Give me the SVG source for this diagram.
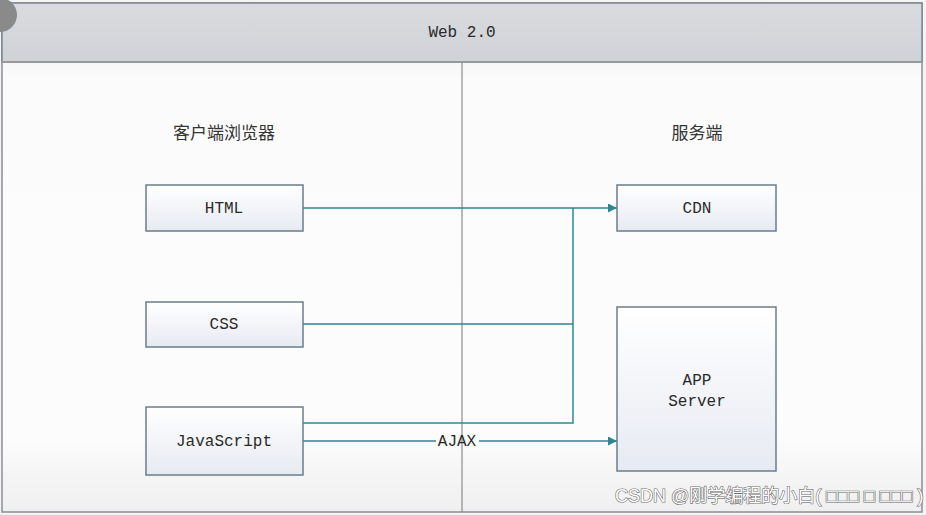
<svg xmlns="http://www.w3.org/2000/svg" width="926" height="515" viewBox="0 0 926 515">
<defs>
<linearGradient id="hdr" x1="0" y1="0" x2="0" y2="1"><stop offset="0" stop-color="#d9dbdf"/><stop offset="1" stop-color="#cfd2d6"/></linearGradient>
<linearGradient id="body" x1="0" y1="0" x2="0" y2="1"><stop offset="0" stop-color="#e9e9e9"/><stop offset="0.15" stop-color="#fbfbfb"/><stop offset="0.85" stop-color="#fcfcfc"/><stop offset="1" stop-color="#efefef"/></linearGradient>
<linearGradient id="box" x1="0" y1="0" x2="0" y2="1"><stop offset="0" stop-color="#ffffff"/><stop offset="1" stop-color="#e6eaf2"/></linearGradient>
<marker id="arr" viewBox="0 0 10 10" refX="10" refY="5" markerWidth="9" markerHeight="9" markerUnits="userSpaceOnUse" orient="auto"><path d="M0,0 L10,5 L0,10 z" fill="#2f8593"/></marker>
</defs>
<style>
.node rect{fill:url(#box);stroke:#6b7d8c;stroke-width:1.5}
.lbl{font-family:"Liberation Mono","DejaVu Sans Mono",monospace;font-size:16px;fill:#2a2a2a;text-anchor:middle}
.cjk{font-family:"Noto Sans CJK SC",sans-serif;font-size:17px;fill:#333;text-anchor:middle}
.con{stroke:#2f8593;stroke-width:1.5;fill:none}
</style>
<rect x="0" y="0" width="926" height="515" fill="#f4f4f4"/>
<rect x="2" y="3" width="920" height="509" fill="url(#body)" stroke="#8a8f95" stroke-width="1.5"/>
<rect x="2" y="3" width="920" height="59" fill="url(#hdr)" stroke="#7b8795" stroke-width="1.5"/>
<line x1="2" y1="62" x2="922" y2="62" stroke="#999" stroke-width="2"/>
<line x1="462" y1="62" x2="462" y2="512" stroke="#8c8c8c" stroke-width="1.2"/>
<circle cx="0" cy="15" r="17" fill="#8a8a8a"/>
<text class="lbl" x="462" y="37">Web 2.0</text>
<text class="cjk" x="224" y="139">客户端浏览器</text>
<text class="cjk" x="697" y="139">服务端</text>
<g id="connectors">
<line class="con" x1="303" y1="208" x2="617" y2="208" marker-end="url(#arr)"/>
<polyline class="con" points="303,324 573,324"/>
<polyline class="con" points="303,423 573,423 573,208"/>
<line class="con" x1="303" y1="441" x2="436" y2="441"/>
<line class="con" x1="479" y1="441" x2="617" y2="441" marker-end="url(#arr)"/>
<text class="lbl" x="457" y="446">AJAX</text>
</g>
<g id="html" class="node"><rect x="146" y="185" width="157" height="46"/><text class="lbl" x="224" y="213">HTML</text></g>
<g id="css" class="node"><rect x="146" y="302" width="157" height="45"/><text class="lbl" x="224" y="329">CSS</text></g>
<g id="javascript" class="node"><rect x="146" y="407" width="157" height="68"/><text class="lbl" x="224" y="446">JavaScript</text></g>
<g id="cdn" class="node"><rect x="617" y="185" width="159" height="46"/><text class="lbl" x="697" y="213">CDN</text></g>
<g id="appserver" class="node"><rect x="617" y="307" width="159" height="164"/><text class="lbl" x="697" y="385">APP</text><text class="lbl" x="697" y="406">Server</text></g>
<text x="615" y="502" font-family="Liberation Sans,Noto Sans CJK SC,sans-serif" font-size="18" fill="#ffffff" stroke="#6e6e6e" stroke-width="1.2" paint-order="stroke">CSDN @刚学编程的小白( □□□ □ □□□ )</text>
</svg>
